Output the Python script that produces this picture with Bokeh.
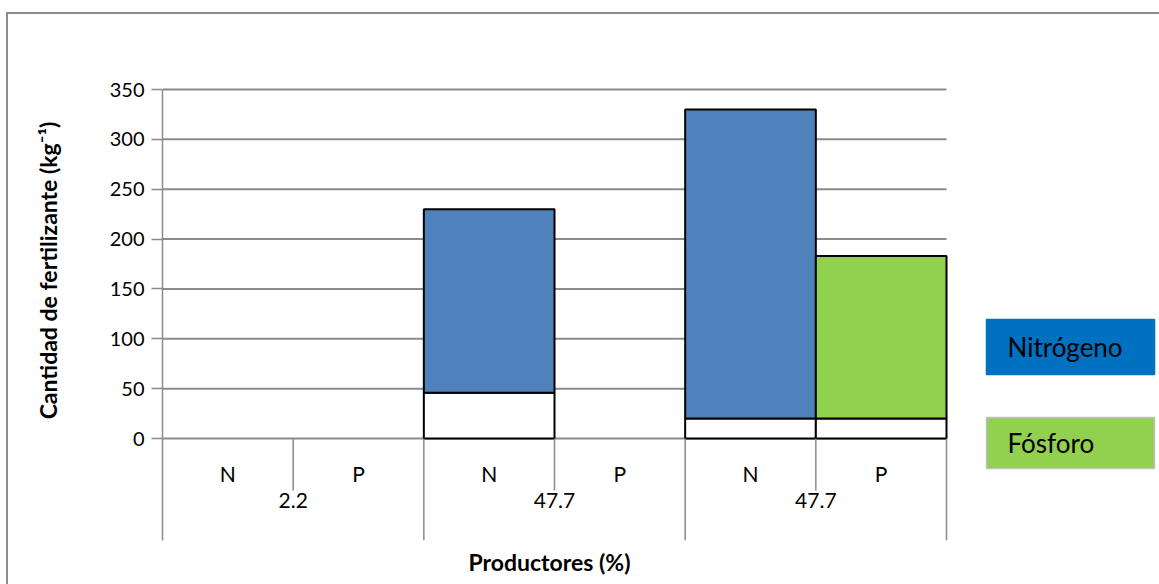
from bokeh.plotting import figure
from bokeh.models import Range1d, FixedTicker, ColumnDataSource, Title
from bokeh.core.properties import value
from bokeh.embed import file_html
from bokeh.resources import INLINE

# ---- data -------------------------------------------------------------
groups = ["2.2", "47.7", "47.7"]            # Productores (%)
nutrients = ["N", "P", "N", "P", "N", "P"]  # one slot per nutrient and group
base = [0, 0, 46, 0, 20, 20]                # lower end of each floating bar
top = [0, 0, 230, 0, 330, 183]              # upper end of each floating bar
y_ticks = [0, 50, 100, 150, 200, 250, 300, 350]
legend_labels = ["Nitrógeno", "Fósforo"]

FONT = "Lato"
GRID = "#8a8a8a"
BAR_COLORS = {"N": "#4F81BD", "P": "#92D050"}
LEGEND_FILL = ["#0070C0", "#92D050"]
LEGEND_LINE = ["#0070C0", "#bfbfbf"]

W, H = 1159, 584
n_slots = len(nutrients)
y_top = y_ticks[-1]

# page layout (pixels): value area, and the bottom of the plotting frame
LEFT, RIGHT, TOP, ZERO, BOTTOM = 162, 946, 89, 438, 540
sx = (RIGHT - LEFT) / n_slots          # pixels per slot
sy = (ZERO - TOP) / y_top              # pixels per unit


def px_x(px):
    return (px - LEFT) / sx


def px_y(py):
    return (ZERO - py) / sy


slot_x = [i + 0.5 for i in range(n_slots)]
group_x = [2 * i + 1 for i in range(len(groups))]
y_min = px_y(BOTTOM)

p = figure(width=W, height=H,
           x_range=Range1d(0, px_x(W)), y_range=Range1d(y_min, px_y(0)),
           x_axis_type=None, output_backend="svg", toolbar_location=None,
           min_border_left=LEFT, min_border_right=0,
           min_border_top=0, min_border_bottom=H - BOTTOM)
p.outline_line_color = None
p.background_fill_color = None
p.border_fill_color = None
p.xgrid.visible = False
p.ygrid.visible = False
# chart-area border (top and left edges) painted behind the transparent canvas
p.styles = {
    "background": ("linear-gradient(#8c8c8c, #8c8c8c) 6px 12px / 2px 100% no-repeat, "
                   "linear-gradient(#8c8c8c, #8c8c8c) 6px 12px / 100% 2px no-repeat, "
                   "#ffffff"),
}

# ---- y axis -----------------------------------------------------------
ax = p.yaxis[0]
ax.ticker = FixedTicker(ticks=y_ticks)
ax.bounds = (y_min, y_top)
ax.axis_line_color = GRID
ax.axis_line_width = 1.5
ax.major_tick_line_color = GRID
ax.major_tick_line_width = 1.5
ax.major_tick_out = 11
ax.major_tick_in = 0
ax.minor_tick_line_color = None
ax.major_label_standoff = 7
ax.major_label_text_font = FONT
ax.major_label_text_font_size = "20px"
ax.major_label_text_color = "black"
ax.axis_label = "Cantidad de fertilizante (kg\u207b\u00b9)"
ax.axis_label_text_font = FONT
ax.axis_label_text_font_size = "23px"
ax.axis_label_text_font_style = "bold"
ax.axis_label_text_color = "black"
ax.axis_label_standoff = 45

# x axis title under the category band
p.add_layout(Title(text="Productores (%)", align="left", offset=306,
                   vertical_align="top", standoff=14,
                   text_font=FONT, text_font_size="23px", text_font_style="bold",
                   text_color="black"), "below")

# horizontal gridlines across the value area
p.segment(x0=[0] * len(y_ticks), y0=y_ticks, x1=[n_slots] * len(y_ticks), y1=y_ticks,
          line_color=GRID, line_width=2)

# ---- floating bars ----------------------------------------------------
idx = [i for i in range(n_slots) if top[i] > 0]
white_src = ColumnDataSource(dict(
    x=[slot_x[i] for i in idx],
    bottom=[0 for i in idx],
    top=[base[i] for i in idx]))
color_src = ColumnDataSource(dict(
    x=[slot_x[i] for i in idx],
    bottom=[base[i] for i in idx],
    top=[top[i] for i in idx],
    color=[BAR_COLORS[nutrients[i]] for i in idx]))

p.vbar(x="x", bottom="bottom", top="top", width=1.0, source=white_src,
       fill_color="white", line_color="black", line_width=2)
p.vbar(x="x", bottom="bottom", top="top", width=1.0, source=color_src,
       fill_color="color", line_color="black", line_width=2)

# ---- category band below the axis -------------------------------------
inner_y = px_y(490)
inner_x = [2 * i + 1 for i in range(len(groups))]
outer_x = [2 * i for i in range(1, len(groups) + 1)]
p.segment(x0=inner_x, y0=[0] * len(inner_x), x1=inner_x, y1=[inner_y] * len(inner_x),
          line_color=GRID, line_width=1.5)
p.segment(x0=outer_x, y0=[0] * len(outer_x), x1=outer_x, y1=[y_min] * len(outer_x),
          line_color=GRID, line_width=1.5)

p.text(x=slot_x, y=[px_y(473)] * n_slots, text=nutrients,
       text_align="center", text_baseline="middle",
       text_font=value(FONT), text_font_size="21px", text_color="black")
p.text(x=group_x, y=[px_y(500)] * len(groups), text=groups,
       text_align="center", text_baseline="middle",
       text_font=value(FONT), text_font_size="21px", text_color="black")

# ---- legend boxes -----------------------------------------------------
box_top = [319, 417]
box_bottom = [374, 468]
p.quad(left=[px_x(986)] * 2, right=[px_x(1154)] * 2,
       top=[px_y(t) for t in box_top], bottom=[px_y(b) for b in box_bottom],
       fill_color=LEGEND_FILL, line_color=LEGEND_LINE, line_width=1.5)
p.text(x=[px_x(1007)] * 2, y=[px_y((t + b) / 2) for t, b in zip(box_top, box_bottom)],
       text=legend_labels, text_align="left", text_baseline="middle",
       text_font=value(FONT), text_font_size="26px", text_color="black")

open("out.html", "w").write(file_html(p, INLINE))
